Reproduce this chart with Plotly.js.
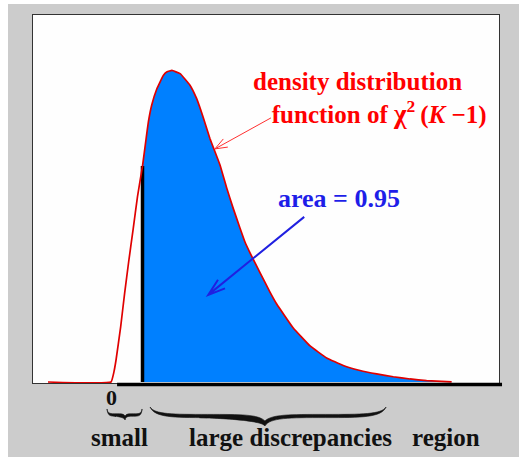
<!DOCTYPE html>
<html>
<head>
<meta charset="utf-8">
<script src="https://cdn.plot.ly/plotly-3.0.1.min.js"></script>
<style>
  html, body { margin: 0; padding: 0; background: #ffffff; }
  #chart { position: absolute; left: 8px; top: 4px; width: 511px; height: 453px; }
</style>
</head>
<body>
<div id="chart"></div>
<script>
// Sampled density curve (x, density)
const chiX = [-3.0, 0, 0.14, 0.24, 0.46, 0.65, 0.84, 1.05, 1.26, 1.5, 1.67, 1.78, 1.94, 2.18, 2.49, 2.67, 2.90,
              3.29, 3.76, 4.08, 4.40, 4.71, 5.19, 5.51, 5.82, 6.14, 6.38, 6.62, 7.10, 7.57, 7.89, 8.68, 9.48,
              10.27, 11.06, 11.86, 12.65, 13.44, 14.24, 15.03, 16.22];
const chiY = [0, 0, 0.0050, 0.0109, 0.0273, 0.0441, 0.0595, 0.0754, 0.0918, 0.1071, 0.1205, 0.1290, 0.1374, 0.1453, 0.1520, 0.1538, 0.1545,
              0.1529, 0.1472, 0.1405, 0.1309, 0.1208, 0.1076, 0.0962, 0.0861, 0.0764, 0.0694, 0.0640, 0.0541, 0.0446, 0.0387, 0.0268, 0.0179,
              0.0119, 0.0082, 0.0057, 0.0040, 0.0026, 0.0015, 0.0007, 0.0001];

// Boundary between the "small" and "large discrepancies" regions
const cutX = 1.5;
const areaLabel = 'area = 0.95';
const curveLabel = 'density distribution<br>&nbsp;&nbsp;&nbsp;function of <span style="font-size:27px">χ</span><sup>2</sup>\u2009(<i>K</i> −1)';
const zeroLabel = '0';
const regionLabels = ['small', 'large discrepancies', 'region'];

const X_RANGE = [-3.714, 18.476];
const Y_RANGE = [-0.0005, 0.182];

const W = 511, H = 453;
const M = { l: 25, r: 20, t: 11, b: 74 };
const plotW = W - M.l - M.r;
const plotH = H - M.t - M.b;

// coordinate helpers
const px = x => (x - X_RANGE[0]) / (X_RANGE[1] - X_RANGE[0]);          // data x -> paper x
const py = y => (y - Y_RANGE[0]) / (Y_RANGE[1] - Y_RANGE[0]);          // data y -> paper y
const below = d => -d / plotH;                                          // px below axis -> paper y

// shaded tail to the right of the cut
const tailX = [], tailY = [];
chiX.forEach((x, i) => { if (x >= cutX) { tailX.push(x); tailY.push(chiY[i]); } });
const cutY = chiY[chiX.indexOf(cutX)];

const traces = [
  {
    x: tailX, y: tailY, type: 'scatter', mode: 'lines',
    fill: 'tozeroy', fillcolor: '#0080ff',
    line: { width: 0, shape: 'spline', smoothing: 0.3 },
    hoverinfo: 'skip'
  },
  {
    x: [cutX, cutX], y: [0, cutY], type: 'scatter', mode: 'lines',
    line: { color: '#000000', width: 3.5 }, hoverinfo: 'skip'
  },
  {
    x: chiX, y: chiY, type: 'scatter', mode: 'lines',
    line: { color: '#e00000', width: 1.7, shape: 'spline', smoothing: 0.3 },
    hoverinfo: 'skip'
  }
];

// curly brace as a filled path; a, b, m are data x (left, right, tip), y values are px below the axis
function brace(a, b, m, e, r, p, w) {
  const A = px(a) * plotW, B = px(b) * plotW, Mx = px(m) * plotW;
  const L = Mx - A, R = B - Mx;
  const P = (x, y) => (x / plotW).toFixed(5) + ',' + below(y).toFixed(5);
  const h = w / 2;
  return 'M' + P(A, e) +
    ' C' + P(A + 0.04 * L, r - h) + ' ' + P(A + 0.2 * L, r - h) + ' ' + P(A + 0.5 * L, r - h) +
    ' C' + P(A + 0.8 * L, r - h) + ' ' + P(Mx - 0.06 * L, r - h) + ' ' + P(Mx, p - 1.6 * w) +
    ' C' + P(Mx + 0.06 * R, r - h) + ' ' + P(Mx + 0.2 * R, r - h) + ' ' + P(Mx + 0.5 * R, r - h) +
    ' C' + P(Mx + 0.8 * R, r - h) + ' ' + P(B - 0.04 * R, r - h) + ' ' + P(B, e) +
    ' C' + P(B - 0.04 * R, r + h) + ' ' + P(Mx + 0.8 * R, r + h) + ' ' + P(Mx + 0.5 * R, r + h) +
    ' C' + P(Mx + 0.2 * R, r + h) + ' ' + P(Mx + 0.04 * R, r + h) + ' ' + P(Mx, p) +
    ' C' + P(Mx - 0.04 * L, r + h) + ' ' + P(A + 0.2 * L, r + h) + ' ' + P(A + 0.5 * L, r + h) +
    ' C' + P(A + 0.2 * L, r + h) + ' ' + P(A + 0.04 * L, r + h) + ' ' + P(A, e) + ' Z';
}

// pointer arrow with an open head; tip in data units, tail as a pixel offset from the tip
function arrow(tx, ty, dx, dy, len, ang) {
  const X = px(tx) * plotW, Y = (1 - py(ty)) * plotH;
  const n = Math.hypot(dx, dy), ux = dx / n, uy = dy / n;
  const rot = s => {
    const c = Math.cos(s * ang * Math.PI / 180), si = Math.sin(s * ang * Math.PI / 180);
    return [X + len * (ux * c - uy * si), Y + len * (ux * si + uy * c)];
  };
  const P = (x, y) => (x / plotW).toFixed(5) + ',' + (1 - y / plotH).toFixed(5);
  const a1 = rot(1), a2 = rot(-1);
  return 'M' + P(X + dx, Y + dy) + ' L' + P(X, Y) +
         ' M' + P(a1[0], a1[1]) + ' L' + P(X, Y) + ' L' + P(a2[0], a2[1]);
}

const serif = 'Liberation Serif, Times New Roman, serif';

const layout = {
  width: W, height: H,
  margin: M,
  paper_bgcolor: '#cccccc',
  plot_bgcolor: '#fefefe',
  showlegend: false,
  xaxis: {
    range: X_RANGE, showgrid: false, zeroline: false, showticklabels: false, ticks: '',
    showline: true, mirror: true, linecolor: '#333333', linewidth: 1, fixedrange: true
  },
  yaxis: {
    range: Y_RANGE, showgrid: false, zeroline: false, showticklabels: false, ticks: '',
    showline: true, mirror: true, linecolor: '#333333', linewidth: 1, fixedrange: true
  },
  shapes: [
    // heavy baseline under the support of the density
    { type: 'line', xref: 'paper', yref: 'paper', x0: px(0.29), x1: px(18.62), y0: below(1.5), y1: below(1.5),
      line: { color: '#000000', width: 3.5 } },
    { type: 'path', xref: 'paper', yref: 'paper', path: brace(-0.19, 1.48, 0.67, 26, 32, 37, 2.4),
      fillcolor: '#111111', line: { color: '#111111', width: 0.6 } },
    { type: 'path', xref: 'paper', yref: 'paper', path: brace(1.86, 13.1, 7.33, 24, 33, 43, 3.2),
      fillcolor: '#111111', line: { color: '#111111', width: 0.6 } },
    // pointer from the curve label to the curve
    { type: 'path', xref: 'paper', yref: 'paper', path: arrow(4.95, 0.1156, 56, -31, 13, 21),
      line: { color: '#ff3030', width: 1 } },
    // pointer from the area label into the shaded region
    { type: 'path', xref: 'paper', yref: 'paper', path: arrow(4.63, 0.0432, 96, -78, 18, 18),
      line: { color: '#2020e0', width: 2 } }
  ],
  annotations: [
    { xref: 'paper', yref: 'paper', x: 0.468, y: 0.772, xanchor: 'left', yanchor: 'middle', align: 'left',
      text: curveLabel, showarrow: false,
      font: { family: serif, size: 25, weight: 'bold', color: '#ff0000' } },
    { xref: 'paper', yref: 'paper', x: 0.522, y: 0.501, xanchor: 'left', yanchor: 'middle',
      text: areaLabel, showarrow: false,
      font: { family: serif, size: 26, weight: 'bold', color: '#1e1ee8' } },
    { xref: 'x', yref: 'paper', x: 0, y: below(14), xanchor: 'center', yanchor: 'middle',
      text: zeroLabel, showarrow: false,
      font: { family: serif, size: 22, weight: 'bold', color: '#111111' } },
    { xref: 'paper', yref: 'paper', x: 0.1856, y: below(54), xanchor: 'center', yanchor: 'middle',
      text: regionLabels[0], showarrow: false,
      font: { family: serif, size: 25, weight: 'bold', color: '#111111' } },
    { xref: 'paper', yref: 'paper', x: 0.5536, y: below(54), xanchor: 'center', yanchor: 'middle',
      text: regionLabels[1], showarrow: false,
      font: { family: serif, size: 25, weight: 'bold', color: '#111111' } },
    { xref: 'paper', yref: 'paper', x: 0.886, y: below(54), xanchor: 'center', yanchor: 'middle',
      text: regionLabels[2], showarrow: false,
      font: { family: serif, size: 25, weight: 'bold', color: '#111111' } }
  ]
};

Plotly.newPlot('chart', traces, layout, { displayModeBar: false, staticPlot: true });
</script>
</body>
</html>
